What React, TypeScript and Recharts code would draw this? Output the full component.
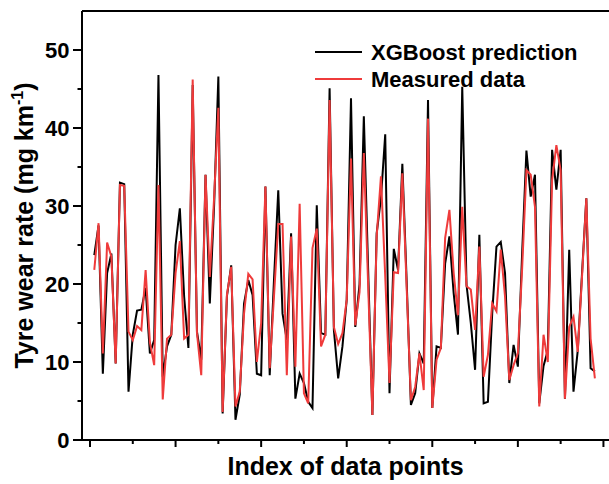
import React from 'react';
import { LineChart, Line, XAxis, YAxis, Legend, ReferenceLine } from 'recharts';

const predicted = [
  23.7, 27.5, 8.5, 21.4, 23.9, 9.8, 33.0, 32.8, 6.2, 13.5,
  16.6, 16.7, 19.5, 11.1, 12.8, 46.8, 8.1, 12.0, 13.5, 25.0,
  29.7, 18.4, 11.8, 45.5, 13.9, 10.3, 34.0, 17.5, 30.0, 46.6,
  3.4, 18.4, 22.4, 2.6, 5.8, 17.5, 20.5, 18.6, 8.5, 8.3,
  32.5, 8.3, 20.5, 32.0, 16.2, 12.8, 26.5, 5.3, 8.5, 7.3,
  4.9, 4.1, 30.1, 13.7, 13.5, 45.1, 14.1, 7.9, 12.0, 18.0,
  43.8, 14.5, 20.0, 41.5, 22.0, 3.2, 26.5, 31.0, 39.2, 6.0,
  24.5, 21.8, 35.4, 20.5, 4.5, 6.0, 11.1, 9.8, 43.6, 4.1,
  12.0, 11.8, 22.6, 26.1, 18.8, 13.5, 45.3, 19.9, 15.0, 9.0,
  26.3, 4.7, 4.9, 16.2, 24.8, 25.4, 21.4, 7.3, 12.2, 9.4,
  24.0, 37.1, 31.2, 34.0, 4.7, 9.5, 11.5, 37.2, 32.1, 37.2,
  5.3, 24.4, 6.2, 11.5, 21.4, 31.0, 9.2, 8.8,
];

const measured = [
  21.8, 27.8, 11.1, 25.3, 23.5, 9.8, 32.7, 32.6, 13.9, 12.8,
  14.6, 14.1, 21.8, 12.5, 9.6, 32.7, 5.2, 13.0, 13.5, 21.4,
  25.5, 13.0, 13.5, 46.2, 13.7, 8.3, 34.0, 20.9, 31.0, 42.6,
  3.6, 18.6, 22.2, 4.3, 6.2, 16.2, 21.3, 20.6, 10.0, 15.0,
  32.5, 9.2, 18.4, 27.7, 27.7, 8.3, 26.1, 9.4, 30.3, 6.0,
  4.7, 24.6, 27.1, 12.0, 13.5, 43.6, 14.5, 12.3, 13.7, 18.0,
  36.1, 14.7, 19.0, 36.8, 20.0, 3.2, 26.1, 33.8, 21.0, 7.3,
  21.5, 21.4, 34.2, 19.7, 5.1, 6.8, 11.1, 6.4, 41.2, 4.1,
  10.3, 11.8, 25.9, 29.5, 21.4, 16.0, 29.9, 19.7, 19.3, 14.1,
  24.8, 8.1, 10.9, 17.5, 16.5, 24.4, 18.4, 7.7, 9.6, 11.1,
  22.0, 34.6, 34.0, 29.9, 4.3, 13.5, 10.0, 33.3, 37.8, 34.6,
  5.3, 14.5, 15.8, 11.3, 21.0, 31.0, 13.0, 7.9,
];

const xTicks = [0, 10, 20, 30, 40, 50, 60, 70, 80, 90, 100, 110, 120];
const yTicks = [0, 5, 10, 15, 20, 25, 30, 35, 40, 45, 50];
const yLabelTicks = [0, 10, 20, 30, 40, 50];

const seriesNames = ['XGBoost prediction', 'Measured data'];

const data = predicted.map((p, i) => ({ idx: i + 1, pred: p, meas: measured[i] }));

const FONT = '"Liberation Sans", Arial, Helvetica, sans-serif';

const XTick = (props: any) => {
  const { x, y, payload } = props;
  const major = payload.value % 20 === 0;
  return <line x1={x} y1={y} x2={x} y2={y + (major ? 7 : 4)} stroke="#000" strokeWidth={2} />;
};

const YTick = (props: any) => {
  const { x, y, payload } = props;
  const major = yLabelTicks.includes(payload.value);
  return (
    <g>
      <line x1={x} y1={y} x2={x - (major ? 9 : 4.5)} y2={y} stroke="#000" strokeWidth={2} />
      {major && (
        <text x={x - 12.5} y={y} dy="0.355em" textAnchor="end" fontFamily={FONT} fontWeight="bold" fontSize={22} fill="#000">
          {payload.value}
        </text>
      )}
    </g>
  );
};

const XTitle = (props: any) => {
  const vb = props.viewBox || { x: 82, y: 440, width: 527, height: 44 };
  return (
    <text x={vb.x + vb.width / 2} y={vb.y + 35} textAnchor="middle" fontFamily={FONT} fontWeight="bold" fontSize={25} fill="#000">
      Index of data points
    </text>
  );
};

const YTitle = (props: any) => {
  const vb = props.viewBox || { x: 0, y: 11, width: 82, height: 429 };
  const cx = 33;
  const cy = vb.y + vb.height / 2;
  return (
    <text x={cx} y={cy} transform={`rotate(-90, ${cx}, ${cy})`} textAnchor="middle" fontFamily={FONT} fontWeight="bold" fontSize={25} fill="#000">
      Tyre wear rate (mg km<tspan dy={-10} fontSize={16}>-1</tspan><tspan dy={10}>)</tspan>
    </text>
  );
};

const renderLegend = (props: any) => {
  const payload = [...(props.payload || [])].sort(
    (a: any, b: any) => seriesNames.indexOf(a.value) - seriesNames.indexOf(b.value)
  );
  return (
    <div style={{ fontFamily: FONT, fontWeight: 'bold', fontSize: 22, color: '#000' }}>
      {payload.map((e: any) => (
        <div key={e.value} style={{ display: 'flex', alignItems: 'center', height: 27, lineHeight: '27px', whiteSpace: 'nowrap' }}>
          <svg width={47} height={4} style={{ display: 'block' }}>
            <line x1={0} y1={2} x2={47} y2={2} stroke={e.color} strokeWidth={2} />
          </svg>
          <span style={{ marginLeft: 9 }}>{e.value}</span>
        </div>
      ))}
    </div>
  );
};

export default function App() {
  return (
    <div style={{ position: 'absolute', left: 0, top: 0, background: '#fff' }}>
      <LineChart width={609} height={484} data={data} margin={{ top: 11, right: 0, bottom: 0, left: 0 }}>
        <XAxis
          dataKey="idx"
          type="number"
          domain={[-1.87, 121.3]}
          ticks={xTicks}
          interval={0}
          height={44}
          tickSize={0}
          tickMargin={0}
          tickLine={false}
          tick={<XTick />}
          axisLine={{ stroke: '#000', strokeWidth: 2 }}
          label={<XTitle />}
        />
        <YAxis
          type="number"
          domain={[0, 55]}
          ticks={yTicks}
          interval={0}
          width={82}
          tickSize={0}
          tickMargin={0}
          tickLine={false}
          tick={<YTick />}
          axisLine={{ stroke: '#000', strokeWidth: 2 }}
          label={<YTitle />}
        />
        <ReferenceLine y={55} stroke="#000" strokeWidth={2} />
        <Line
          type="linear"
          dataKey="pred"
          name={seriesNames[0]}
          stroke="#000000"
          strokeWidth={2}
          dot={false}
          activeDot={false}
          isAnimationActive={false}
        />
        <Line
          type="linear"
          dataKey="meas"
          name={seriesNames[1]}
          stroke="#ef3b3b"
          strokeWidth={2}
          dot={false}
          activeDot={false}
          isAnimationActive={false}
        />
        <Legend
          layout="vertical"
          align="center"
          verticalAlign="middle"
          content={renderLegend}
          wrapperStyle={{ left: 315, top: 38.8, width: 290 }}
        />
      </LineChart>
    </div>
  );
}
